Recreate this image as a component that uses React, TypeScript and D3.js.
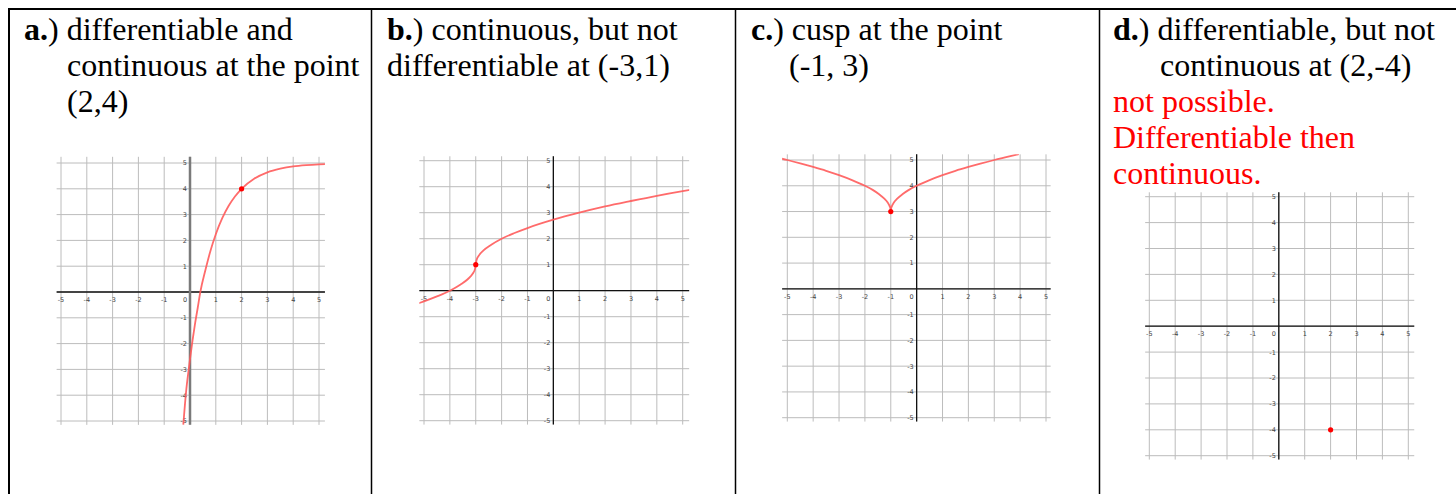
import React from "react";
import * as d3 from "d3";

// Sampled points of each sketched function, in graph units
const curveA: [number, number][] = [
  [-0.26, -5.15], [-0.15, -3.85], [-0.05, -3.0], [0, -2.6], [0.1, -1.87], [0.2, -1.2],
  [0.3, -0.61], [0.4, 0], [0.6, 0.86], [0.8, 1.62], [1, 2.24], [1.25, 2.86], [1.5, 3.34],
  [1.75, 3.71], [2, 4], [2.5, 4.4], [3, 4.64], [3.5, 4.78], [4, 4.87], [4.5, 4.92],
  [5, 4.95], [5.25, 4.96],
];
const pointA: [number, number] = [2, 4];

const curveB: [number, number][] = [
  [-5.2, -0.48], [-5, -0.41], [-4.5, -0.22], [-4, 0], [-3.6, 0.23], [-3.3, 0.45],
  [-3.12, 0.65], [-3.03, 0.83], [-3, 1], [-2.97, 1.17], [-2.88, 1.35], [-2.7, 1.55],
  [-2.4, 1.77], [-2, 2], [-1.5, 2.22], [-1, 2.41], [0, 2.73], [1, 3], [2, 3.24],
  [3, 3.45], [4, 3.65], [5, 3.83], [5.3, 3.88],
];
const pointB: [number, number] = [-3, 1];

const curveCLeft: [number, number][] = [
  [-5.3, 5.07], [-5, 5], [-4.5, 4.87], [-4, 4.73], [-3.5, 4.58], [-3, 4.41], [-2.5, 4.22],
  [-2, 4], [-1.7, 3.84], [-1.45, 3.67], [-1.25, 3.5], [-1.12, 3.35], [-1.04, 3.2],
  [-1.01, 3.1], [-1, 3],
];
const curveCRight: [number, number][] = [
  [-1, 3], [-0.99, 3.1], [-0.96, 3.2], [-0.88, 3.35], [-0.75, 3.5], [-0.55, 3.67],
  [-0.3, 3.84], [0, 4], [0.5, 4.22], [1, 4.41], [1.5, 4.58], [2, 4.73], [2.5, 4.87],
  [3, 5], [3.5, 5.12], [3.95, 5.23],
];
const pointC: [number, number] = [-1, 3];

const pointD: [number, number] = [2, -4];

// Axis tick values
const tickValues = [-5, -4, -3, -2, -1, 1, 2, 3, 4, 5];

type Span = { t: string; bold?: boolean };
type Line = { x: number; y: number; red?: boolean; spans: Span[] };

const captionLines: Line[] = [
  { x: 24, y: 40, spans: [{ t: "a.", bold: true }, { t: ") differentiable and" }] },
  { x: 67, y: 76, spans: [{ t: "continuous at the point" }] },
  { x: 67, y: 112, spans: [{ t: "(2,4)" }] },
  { x: 387, y: 40, spans: [{ t: "b.", bold: true }, { t: ") continuous, but not" }] },
  { x: 387, y: 76, spans: [{ t: "differentiable at (-3,1)" }] },
  { x: 751, y: 40, spans: [{ t: "c.", bold: true }, { t: ") cusp at the point" }] },
  { x: 789, y: 76, spans: [{ t: "(-1, 3)" }] },
  { x: 1113, y: 40, spans: [{ t: "d.", bold: true }, { t: ") differentiable, but not" }] },
  { x: 1160, y: 76, spans: [{ t: "continuous at (2,-4)" }] },
  { x: 1113, y: 112, red: true, spans: [{ t: "not possible." }] },
  { x: 1113, y: 148, red: true, spans: [{ t: "Differentiable then" }] },
  { x: 1113, y: 184, red: true, spans: [{ t: "continuous." }] },
];

type PanelSpec = {
  id: string;
  xRange: [number, number];
  yRange: [number, number];
  xExt: [number, number];
  yExt: [number, number];
  yAxisColor: string;
  yAxisWidth: number;
  curves: [number, number][][];
  point: [number, number];
};

const panels: PanelSpec[] = [
  {
    id: "a", xRange: [61, 319], yRange: [421, 163], xExt: [-5.17, 5.23], yExt: [-5.15, 5.24],
    yAxisColor: "#7a7a7a", yAxisWidth: 2.5, curves: [curveA], point: pointA,
  },
  {
    id: "b", xRange: [424, 682.7], yRange: [420.7, 160.7], xExt: [-5.18, 5.25], yExt: [-5.15, 5.17],
    yAxisColor: "#111", yAxisWidth: 1.3, curves: [curveB], point: pointB,
  },
  {
    id: "c", xRange: [787.3, 1046], yRange: [417.7, 160], xExt: [-5.2, 5.18], yExt: [-5.15, 5.22],
    yAxisColor: "#111", yAxisWidth: 1.3, curves: [curveCLeft, curveCRight], point: pointC,
  },
  {
    id: "d", xRange: [1149.3, 1408.3], yRange: [455.7, 196.7], xExt: [-5.16, 5.23], yExt: [-5.15, 5.17],
    yAxisColor: "#111", yAxisWidth: 1.3, curves: [], point: pointD,
  },
];

const GRID = "#bcbcbc";
const CURVE = "#ff5b5b";
const LABEL = "#444";

function Graph({ p }: { p: PanelSpec }) {
  const x = d3.scaleLinear().domain([-5, 5]).range(p.xRange);
  const y = d3.scaleLinear().domain([-5, 5]).range(p.yRange);
  const [x0, x1] = [x(p.xExt[0]), x(p.xExt[1])];
  const [yb, yt] = [y(p.yExt[0]), y(p.yExt[1])];
  const line = d3
    .line<[number, number]>()
    .x((d) => x(d[0]))
    .y((d) => y(d[1]))
    .curve(d3.curveMonotoneX);
  const clipId = `clip-${p.id}`;
  const grid = x.ticks(10);
  return (
    <g>
      <defs>
        <clipPath id={clipId}>
          <rect x={x0} y={yt} width={x1 - x0} height={yb - yt} />
        </clipPath>
      </defs>
      {grid.map((v) => (
        <line key={`gx${v}`} x1={x(v)} x2={x(v)} y1={yt} y2={yb} stroke={GRID} strokeWidth={1} />
      ))}
      {y.ticks(10).map((v) => (
        <line key={`gy${v}`} x1={x0} x2={x1} y1={y(v)} y2={y(v)} stroke={GRID} strokeWidth={1} />
      ))}
      <line x1={x0} x2={x1} y1={y(0)} y2={y(0)} stroke="#111" strokeWidth={1.3} />
      <line x1={x(0)} x2={x(0)} y1={yt} y2={yb} stroke={p.yAxisColor} strokeWidth={p.yAxisWidth} />
      <g fontFamily="DejaVu Sans, sans-serif" fontSize={6.5} fill={LABEL}>
        {tickValues.map((v) => (
          <text key={`lx${v}`} x={x(v)} y={y(0) + 10} textAnchor="middle">
            {String(v)}
          </text>
        ))}
        <text x={x(0) - 5} y={y(0) + 10} textAnchor="middle">0</text>
        {tickValues.map((v) => (
          <text key={`ly${v}`} x={x(0) - 3} y={y(v) + 2.4} textAnchor="end">
            {String(v)}
          </text>
        ))}
      </g>
      <g clipPath={`url(#${clipId})`}>
        {p.curves.map((c, i) => (
          <path key={i} d={line(c) || ""} fill="none" stroke={CURVE} strokeWidth={1.8} strokeOpacity={0.9} />
        ))}
      </g>
      <circle cx={x(p.point[0])} cy={y(p.point[1])} r={2.6} fill="#ff0000" />
    </g>
  );
}

export default function App() {
  return (
    <svg
      width={1456}
      height={494}
      style={{ position: "absolute", left: 0, top: 0, background: "#fff" }}
    >
      {/* table frame */}
      <line x1={8} x2={1456} y1={9} y2={9} stroke="#000" strokeWidth={2} />
      <line x1={9} x2={9} y1={8} y2={494} stroke="#000" strokeWidth={2} />
      {[371.5, 735.5, 1099.5].map((xv) => (
        <line key={xv} x1={xv} x2={xv} y1={8} y2={494} stroke="#000" strokeWidth={1.5} />
      ))}
      <g fontFamily="'Liberation Serif', 'Times New Roman', serif" fontSize={32}>
        {captionLines.map((l, i) => (
          <text key={i} x={l.x} y={l.y} fill={l.red ? "#ff0000" : "#000"}>
            {l.spans.map((s, j) => (
              <tspan key={j} fontWeight={s.bold ? "bold" : "normal"}>
                {s.t}
              </tspan>
            ))}
          </text>
        ))}
      </g>
      {panels.map((p) => (
        <Graph key={p.id} p={p} />
      ))}
    </svg>
  );
}
